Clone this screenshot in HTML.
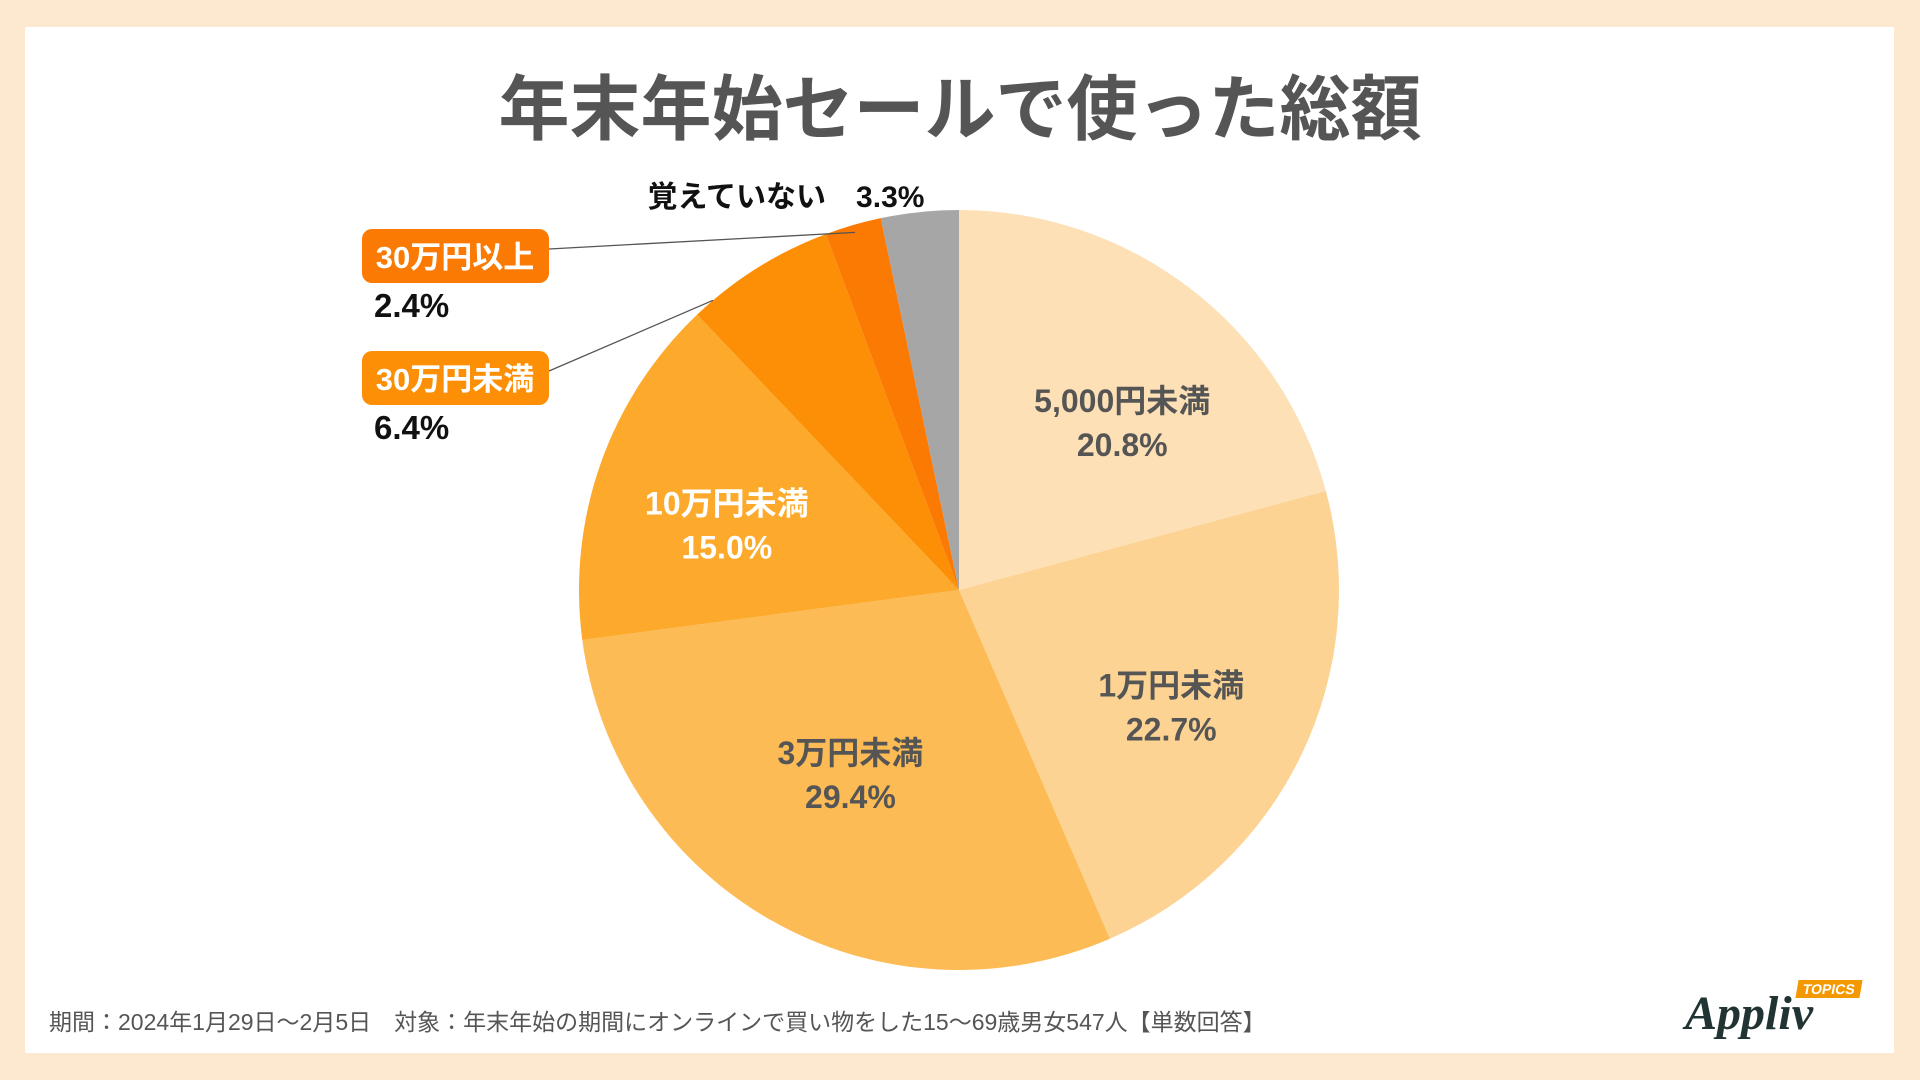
<!DOCTYPE html>
<html><head><meta charset="utf-8"><style>
html,body{margin:0;padding:0;}
body{width:1920px;height:1080px;background:#fde9cf;position:relative;overflow:hidden;font-family:"Liberation Sans","Noto Sans CJK JP",sans-serif;}
#card{position:absolute;left:25px;top:27px;width:1869px;height:1026px;background:#fff;}
.t{position:absolute;white-space:nowrap;font-weight:bold;}
</style></head><body>
<div id="card"></div>
<div class="t" style="left:0;width:1920px;text-align:center;top:71px;font-size:71px;color:#555;line-height:80px;">年末年始セールで使った総額</div>
<svg id="pie" width="1920" height="1080" style="position:absolute;left:0;top:0"></svg>
<div class="t" style="left:49px;top:1003px;font-size:23px;font-weight:normal;color:#555;">期間：2024年1月29日～2月5日　対象：年末年始の期間にオンラインで買い物をした15～69歳男女547人【単数回答】</div>
<div style="position:absolute;left:1685px;top:978px;width:180px;height:60px;">
 <div style="position:absolute;left:112px;top:2px;background:#f39800;color:#fff;font-size:14px;font-weight:bold;padding:1px 6px;transform:skewX(-10deg);">TOPICS</div>
 <div style="position:absolute;left:0;top:8px;font-family:'Liberation Serif',serif;font-style:italic;font-weight:bold;font-size:48px;color:#233;">Appliv</div>
</div>
<script>
const categories=["5,000円未満","1万円未満","3万円未満","10万円未満","30万円未満","30万円以上","覚えていない"];
const values=[20.8,22.7,29.4,15.0,6.4,2.4,3.3];
const valueLabels=["20.8%","22.7%","29.4%","15.0%","6.4%","2.4%","3.3%"];
const colors=["#fde0b5","#fdd394","#fdbb55","#fca92c","#fc8f06","#fb7a03","#a6a6a6"];
const NS="http://www.w3.org/2000/svg";
const svg=document.getElementById('pie');
const cx=959,cy=590,r=380;
const total=values.reduce((a,b)=>a+b,0);
function pt(a,rr){return [cx+rr*Math.sin(a),cy-rr*Math.cos(a)];}
let acc=0;
const starts=[],ends=[],mids=[];
values.forEach((v,i)=>{
 const a0=acc/total*2*Math.PI; acc+=v; const a1=acc/total*2*Math.PI;
 const p0=pt(a0,r),p1=pt(a1,r);
 const path=document.createElementNS(NS,'path');
 path.setAttribute('d',`M${cx},${cy}L${p0[0]},${p0[1]}A${r},${r} 0 ${a1-a0>Math.PI?1:0} 1 ${p1[0]},${p1[1]}Z`);
 path.setAttribute('fill',colors[i]);
 
 
 svg.appendChild(path);
 starts.push(a0);ends.push(a1);mids.push((a0+a1)/2);
});
function txt(x,y,s,size,fill,anchor,name){
 const t=document.createElementNS(NS,'text');
 t.setAttribute('x',x);t.setAttribute('y',y);t.setAttribute('font-size',size);
 t.setAttribute('font-weight','bold');t.setAttribute('fill',fill);
 t.setAttribute('text-anchor',anchor);t.setAttribute('font-family','"Liberation Sans","Noto Sans CJK JP",sans-serif');
 t.textContent=s;
 
 
 svg.appendChild(t);return t;
}
const inFill=["#555","#555","#555","#fff"];
const inR=[0.62,0.62,0.58,0.62];
const nudge=[[20,15],[0,10],[0,-12],[-10,9]];
for(let i=0;i<4;i++){
 const p=pt(mids[i],r*inR[i]);
 const x=p[0]+nudge[i][0],y=p[1]+nudge[i][1];
 txt(x,y-6,categories[i],32,inFill[i],'middle','slice-label');
 txt(x,y+38,valueLabels[i],32,inFill[i],'middle','slice-value');
}
txt(786,207,categories[6]+'　'+valueLabels[6],30,"#111",'middle','slice-label');
const boxes=[{i:4,y:351,f:0.14,rr:1.0},{i:5,y:229,f:0.5,rr:0.98}];
boxes.forEach(b=>{
 const a=starts[b.i]+b.f*(ends[b.i]-starts[b.i]);
 const p=pt(a,r*b.rr);
 const ln=document.createElementNS(NS,'line');
 ln.setAttribute('x1',549);ln.setAttribute('y1',b.y+20);
 ln.setAttribute('x2',p[0]);ln.setAttribute('y2',p[1]);
 ln.setAttribute('stroke','#555');ln.setAttribute('stroke-width','1.3');
 
 
 svg.appendChild(ln);
 const rc=document.createElementNS(NS,'rect');
 rc.setAttribute('x',362);rc.setAttribute('y',b.y);rc.setAttribute('width',187);rc.setAttribute('height',54);rc.setAttribute('rx',10);
 rc.setAttribute('fill',colors[b.i]);
 
 
 svg.appendChild(rc);
 txt(455,b.y+39,categories[b.i],31,"#fff",'middle','callout-label');
 txt(374,b.y+88,valueLabels[b.i],33,"#111",'start','callout-value');
});
</script>
</body></html>
